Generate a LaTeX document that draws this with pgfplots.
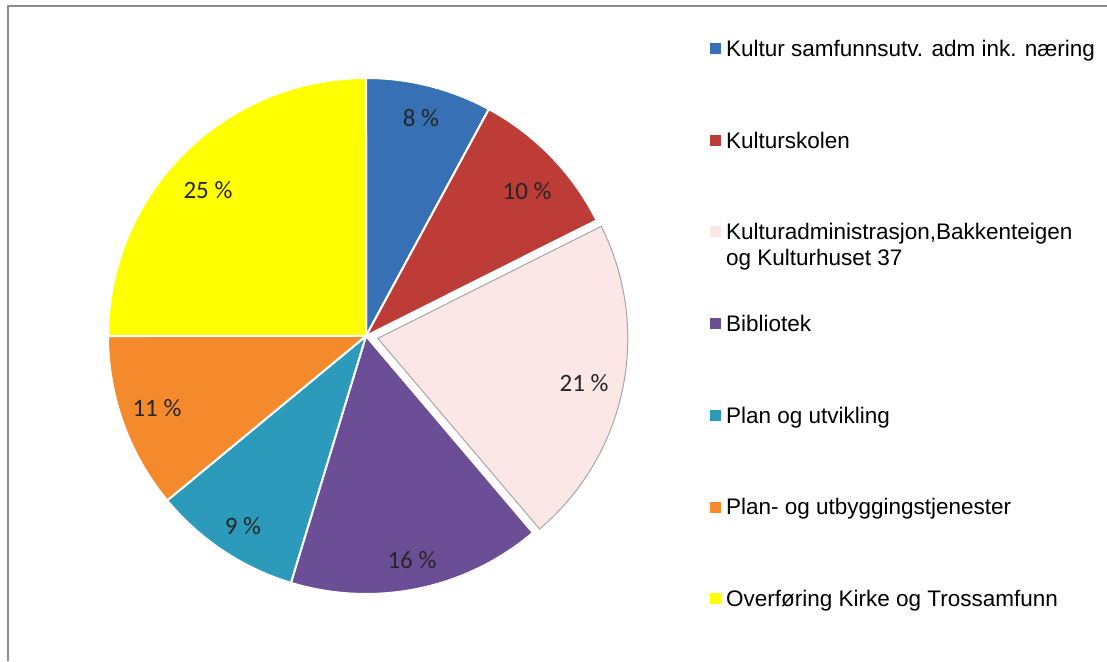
\documentclass[border=0pt]{standalone}
\usepackage{fontspec}
\setmainfont{Liberation Sans}
\newfontfamily\calibri{Carlito}
\usepackage{pgfplots}
\pgfplotsset{compat=1.18}
\definecolor{cBlue}{RGB}{56,112,181}
\definecolor{cRed}{RGB}{190,60,56}
\definecolor{cPink}{RGB}{252,231,231}
\definecolor{cPurple}{RGB}{107,78,150}
\definecolor{cTeal}{RGB}{44,154,186}
\definecolor{cOrange}{RGB}{244,138,44}
\definecolor{cYellow}{RGB}{255,255,0}
\definecolor{cLabel}{RGB}{38,38,38}
\definecolor{cFrame}{RGB}{140,140,140}
\begin{document}
\begin{tikzpicture}
\begin{axis}[name=ax, at={(0,0)}, anchor=south west,
  scale only axis, width=1107pt, height=661pt,
  xmin=0, xmax=1107, ymin=0, ymax=661,
  hide axis, clip=false,
  legend image code/.code={\fill[#1,draw=none] (0pt,-5pt) rectangle (11pt,6pt);},
  legend cell align=left,
  legend style={at={(0.6414,0.9396)}, anchor=north west, draw=none, fill=none,
    inner sep=0pt, outer sep=0pt, row sep=74.1pt, column sep=5pt,
    font=\fontsize{22.5}{26}\selectfont, nodes={inner sep=0pt}},
]
% shares in percent: 7.9, 9.7, 21.2, 15.9, 9.3, 11.0, 25.0 (cumulative bounds below)
\addplot[fill=cBlue, draw=white, line width=2pt, domain=0:7.9, samples=40]
  ({366+258*cos(90-3.6*x)},{325+258*sin(90-3.6*x)}) -- (axis cs:366,325) -- cycle;
\addlegendentry{Kultur samfunnsutv. adm ink. næring\vphantom{Kg}}
\addplot[fill=cRed, draw=white, line width=2pt, domain=7.9:17.6, samples=40]
  ({366+258*cos(90-3.6*x)},{325+258*sin(90-3.6*x)}) -- (axis cs:366,325) -- cycle;
\addlegendentry{Kulturskolen\vphantom{Kg}}
\addplot[fill=cPink, draw=gray!70, line width=1pt, domain=17.6:38.8, samples=60]
  ({377.8+250*cos(90-3.6*x)},{322.6+250*sin(90-3.6*x)}) -- (axis cs:377.8,322.6) -- cycle;
\addlegendentry{\smash{\parbox[t]{9cm}{Kulturadministrasjon,Bakkenteigen\\og Kulturhuset 37}}\vphantom{Kg}}
\addplot[fill=cPurple, draw=white, line width=2pt, domain=38.8:54.7, samples=50]
  ({366+258*cos(90-3.6*x)},{325+258*sin(90-3.6*x)}) -- (axis cs:366,325) -- cycle;
\addlegendentry{Bibliotek\vphantom{Kg}}
\addplot[fill=cTeal, draw=white, line width=2pt, domain=54.7:64.0, samples=40]
  ({366+258*cos(90-3.6*x)},{325+258*sin(90-3.6*x)}) -- (axis cs:366,325) -- cycle;
\addlegendentry{Plan og utvikling\vphantom{Kg}}
\addplot[fill=cOrange, draw=white, line width=2pt, domain=64.0:75.0, samples=40]
  ({366+258*cos(90-3.6*x)},{325+258*sin(90-3.6*x)}) -- (axis cs:366,325) -- cycle;
\addlegendentry{Plan- og utbyggingstjenester\vphantom{Kg}}
\addplot[fill=cYellow, draw=white, line width=2pt, domain=75.0:100, samples=60]
  ({366+258*cos(90-3.6*x)},{325+258*sin(90-3.6*x)}) -- (axis cs:366,325) -- cycle;
\addlegendentry{Overføring Kirke og Trossamfunn\vphantom{Kg}}

\begin{scope}[every node/.style={font=\calibri\fontsize{25}{29}\selectfont, text=cLabel}]
\node at (axis cs:421,543) {8 \%};
\node at (axis cs:527,470) {10 \%};
\node at (axis cs:584,278) {21 \%};
\node at (axis cs:412,101) {16 \%};
\node at (axis cs:243,135) {9 \%};
\node at (axis cs:157,253) {11 \%};
\node at (axis cs:208,471) {25 \%};
\end{scope}

\draw[cFrame, line width=2pt] (axis cs:8,0) -- (axis cs:8,655) -- (axis cs:1107,655);
\end{axis}
\pgfresetboundingbox
\path[use as bounding box] (ax.south west) rectangle (ax.north east);
\end{tikzpicture}
\end{document}
